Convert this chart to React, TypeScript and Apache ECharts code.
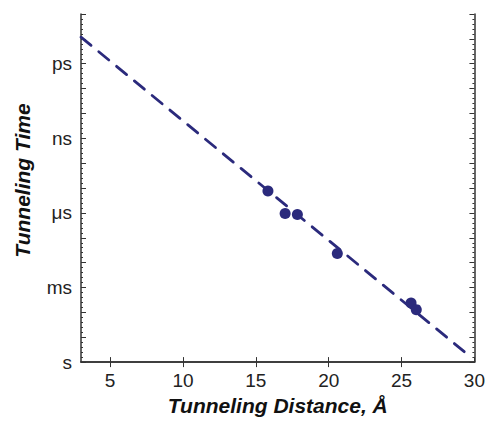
import React, { useEffect, useRef } from "react";
import * as echarts from "echarts";

// Measured points: tunneling distance (Å) vs tunneling time (expressed as -log10(t / s))
const distanceData = [15.83, 17.01, 17.85, 20.59, 25.65, 26.01];
const timeData = [6.88, 5.98, 5.94, 4.37, 2.38, 2.11];

// Dashed fit line end points
const fitDistance = [3, 29.3];
const fitTime = [13.07, 0.42];

// Axis tick labels
const xTickValues = [5, 10, 15, 20, 25, 30];
const yTickValues = [0, 3, 6, 9, 12];
const yTickLabels = ["s", "ms", "μs", "ns", "ps"];

const FONT = "'Liberation Sans', Arial, Helvetica, sans-serif";
const NAVY = "#2b2a7c";
const AXIS = "#333333";

export default function App() {
  const ref = useRef<HTMLDivElement>(null);

  useEffect(() => {
    if (!ref.current) return;
    const chart = echarts.init(ref.current, undefined, { renderer: "svg" });

    const points = distanceData.map((d, i) => [d, timeData[i]]);
    const fit = fitDistance.map((d, i) => [d, fitTime[i]]);

    const axisLine = { show: true, lineStyle: { color: AXIS, width: 1.5 } };
    const tick = { show: true, inside: true, length: 5, lineStyle: { color: AXIS, width: 1 } };

    chart.setOption({
      animation: false,
      backgroundColor: "#ffffff",
      grid: { left: 81, right: 12, top: 14, bottom: 58, containLabel: false },
      xAxis: [
        {
          type: "value",
          min: 3,
          max: 30,
          position: "bottom",
          axisLine,
          axisTick: { ...tick, customValues: xTickValues },
          splitLine: { show: false },
          axisLabel: {
            customValues: xTickValues,
            color: "#222",
            fontSize: 19,
            fontFamily: FONT,
            margin: 9,
          },
          name: "Tunneling Distance, Å",
          nameLocation: "middle",
          nameGap: 25,
          nameTextStyle: {
            fontSize: 21,
            fontWeight: "bold",
            fontStyle: "italic",
            fontFamily: FONT,
            color: "#111",
          },
        },
        {
          type: "value",
          min: 3,
          max: 30,
          position: "top",
          axisLine,
          axisTick: { ...tick, customValues: xTickValues.slice(0, -1) },
          axisLabel: { show: false },
          splitLine: { show: false },
        },
      ],
      yAxis: [
        {
          type: "value",
          min: 0,
          max: 14,
          interval: 1,
          position: "left",
          axisLine,
          axisTick: tick,
          minorTick: { show: true, splitNumber: 5, length: 2, lineStyle: { color: AXIS } },
          splitLine: { show: false },
          axisLabel: {
            customValues: yTickValues,
            formatter: (v: number) => {
              const i = yTickValues.indexOf(Math.round(v));
              return i >= 0 ? yTickLabels[i] : "";
            },
            color: "#222",
            fontSize: 19,
            fontFamily: FONT,
            margin: 9,
          },
          name: "Tunneling Time",
          nameLocation: "middle",
          nameRotate: 90,
          nameGap: 48,
          nameTextStyle: {
            fontSize: 21,
            fontWeight: "bold",
            fontStyle: "italic",
            fontFamily: FONT,
            color: "#111",
            padding: [0, 0, 0, 15],
          },
        },
        {
          type: "value",
          min: 0,
          max: 14,
          interval: 1,
          position: "right",
          axisLine,
          axisTick: tick,
          minorTick: { show: true, splitNumber: 5, length: 2, lineStyle: { color: AXIS } },
          splitLine: { show: false },
          axisLabel: { show: false },
        },
      ],
      series: [
        {
          type: "line",
          data: fit,
          xAxisIndex: 0,
          yAxisIndex: 0,
          showSymbol: false,
          symbol: "none",
          lineStyle: { color: NAVY, width: 2.8, type: [13, 10], cap: "round" },
          z: 2,
        },
        {
          type: "scatter",
          data: points,
          xAxisIndex: 0,
          yAxisIndex: 0,
          symbol: "circle",
          symbolSize: 11,
          itemStyle: { color: NAVY, opacity: 1 },
          z: 3,
        },
      ],
    });

    return () => chart.dispose();
  }, []);

  return (
    <div
      ref={ref}
      style={{ position: "fixed", left: 0, top: 0, width: 488, height: 421, background: "#fff" }}
    />
  );
}
